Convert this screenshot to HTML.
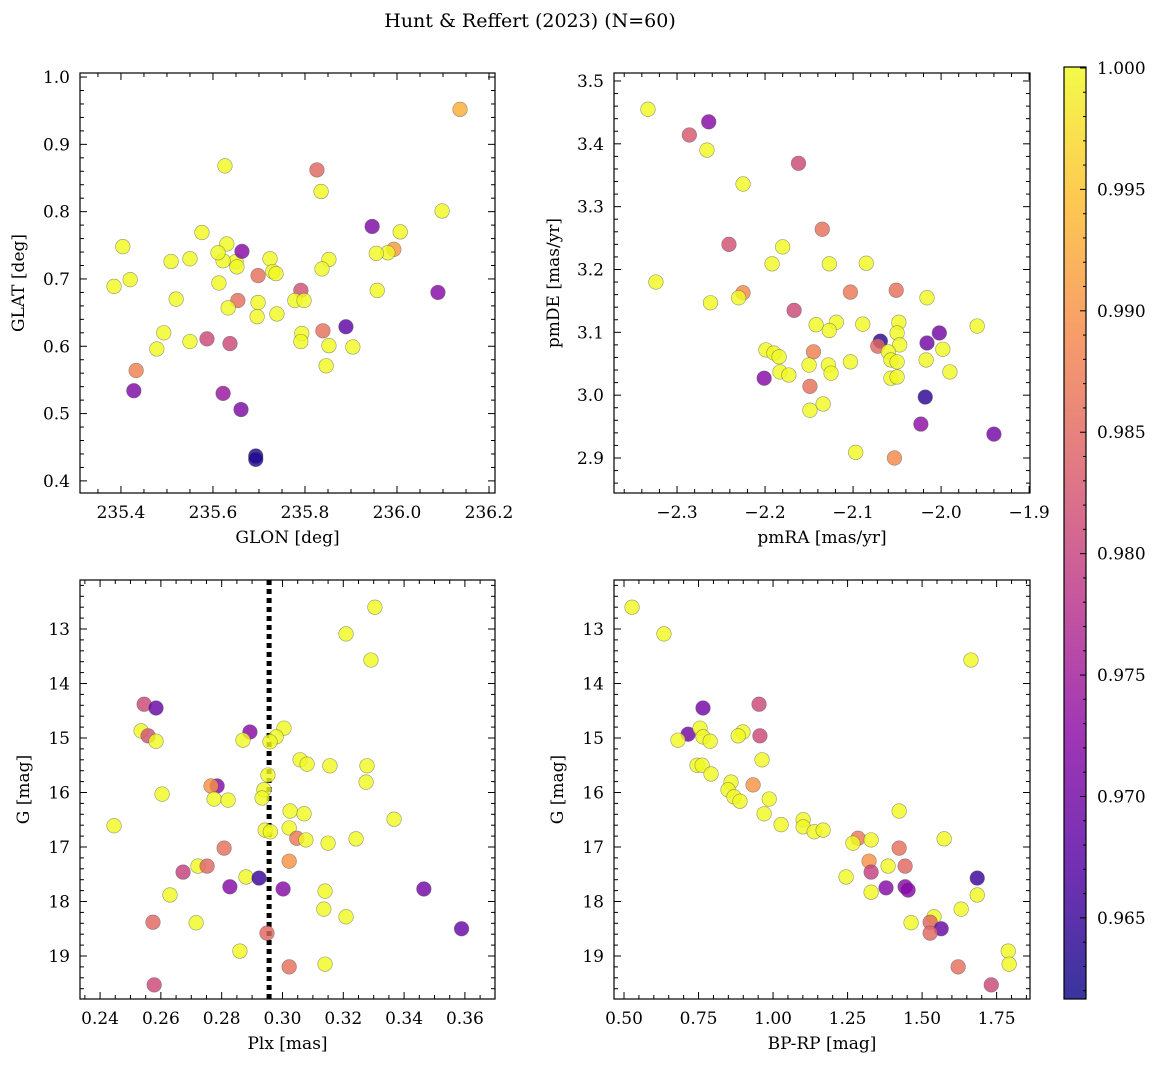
<!DOCTYPE html>
<html><head><meta charset="utf-8">
<style>
html,body{margin:0;padding:0;background:#fff;}
svg{display:block;font-family:"DejaVu Serif","Liberation Serif",serif;}
</style></head>
<body>
<svg id="fig" width="1161" height="1067" viewBox="0 0 1161 1067" xmlns="http://www.w3.org/2000/svg">
<text x="530" y="27" text-anchor="middle" font-size="19">Hunt &amp; Reffert (2023) (N=60)</text>
</svg>
<script>
// ---- data ----
const p1_glon=[236.137,236.098,235.626,235.826,235.835,235.946,236.007,235.576,235.404,235.630,235.993,235.980,235.955,235.724,235.550,235.852,235.650,235.509,235.622,235.611,235.420,235.385,235.663,235.652,235.730,235.737,235.698,235.837,235.613,235.957,236.089,235.791,235.654,235.698,235.520,235.778,235.798,235.633,235.739,235.696,235.889,235.839,235.493,235.793,235.791,235.550,235.587,235.904,235.852,235.637,235.478,235.846,235.433,235.428,235.622,235.661,235.693,235.693];
const p1_glat=[0.952,0.801,0.868,0.862,0.830,0.778,0.770,0.769,0.748,0.752,0.744,0.739,0.738,0.730,0.730,0.729,0.726,0.726,0.727,0.739,0.699,0.689,0.741,0.718,0.711,0.708,0.705,0.715,0.694,0.683,0.680,0.683,0.668,0.665,0.670,0.668,0.668,0.657,0.648,0.644,0.629,0.623,0.620,0.619,0.607,0.607,0.611,0.599,0.601,0.604,0.596,0.571,0.564,0.534,0.530,0.506,0.437,0.432];
const p1_prob=[0.993,1,1,0.985,1,0.971,1,1,1,1,0.991,1,1,1,1,1,1,1,1,1,1,1,0.972,1,1,1,0.986,1,1,1,0.972,0.982,0.986,1,1,1,1,1,1,1,0.968,0.986,1,1,1,1,0.981,1,1,0.981,1,1,0.988,0.971,0.974,0.971,0.963,0.963];

const p2_pmra=[-2.333,-2.264,-2.286,-2.266,-2.162,-2.225,-2.241,-2.180,-2.135,-2.324,-2.192,-2.127,-2.085,-2.225,-2.230,-2.262,-2.103,-2.051,-2.016,-2.167,-2.142,-2.119,-2.127,-2.089,-2.048,-1.959,-2.002,-2.050,-2.069,-2.072,-2.047,-2.016,-1.998,-2.199,-2.190,-2.184,-2.145,-2.060,-2.057,-2.050,-2.017,-2.103,-2.150,-2.128,-2.201,-2.183,-2.173,-2.125,-2.057,-2.050,-1.990,-2.149,-2.134,-2.149,-2.018,-2.023,-1.940,-2.097,-2.053];
const p2_pmde=[3.455,3.435,3.414,3.390,3.369,3.336,3.240,3.236,3.264,3.180,3.209,3.209,3.210,3.163,3.155,3.147,3.164,3.167,3.155,3.135,3.112,3.116,3.103,3.113,3.116,3.110,3.099,3.099,3.086,3.078,3.080,3.083,3.073,3.072,3.067,3.061,3.069,3.069,3.056,3.053,3.056,3.053,3.048,3.048,3.027,3.037,3.032,3.035,3.027,3.029,3.037,3.014,2.986,2.976,2.997,2.954,2.938,2.909,2.900];
const p2_prob=[1,0.972,0.983,1,0.981,1,0.982,1,0.986,1,1,1,1,0.989,1,1,0.987,0.986,1,0.981,1,1,1,1,1,1,0.970,1,0.964,0.985,1,0.970,1,1,1,1,0.988,1,1,1,1,1,1,1,0.972,1,1,1,1,1,1,0.986,1,1,0.964,0.973,0.970,1,0.989];

const p3_plx=[0.3304,0.3209,0.3291,0.2545,0.2584,0.2535,0.2558,0.2584,0.2893,0.2870,0.3005,0.2979,0.2959,0.3058,0.3081,0.3156,0.3278,0.2952,0.2785,0.2765,0.3275,0.2604,0.2939,0.2775,0.2821,0.2933,0.3025,0.3071,0.3367,0.2446,0.3022,0.2943,0.2960,0.3047,0.3077,0.3242,0.3150,0.2808,0.3022,0.2722,0.2752,0.2673,0.2880,0.2923,0.2827,0.3002,0.3140,0.3465,0.2630,0.3136,0.3209,0.2574,0.2716,0.3589,0.2949,0.2860,0.3022,0.3140,0.2578];
const p3_g=[12.60,13.09,13.57,14.38,14.45,14.87,14.96,15.06,14.89,15.04,14.82,14.98,15.07,15.40,15.48,15.51,15.51,15.68,15.88,15.88,15.81,16.03,15.95,16.12,16.14,16.10,16.34,16.39,16.49,16.61,16.65,16.69,16.72,16.84,16.87,16.85,16.93,17.02,17.26,17.35,17.35,17.46,17.55,17.57,17.73,17.77,17.81,17.77,17.88,18.14,18.28,18.38,18.39,18.50,18.58,18.91,19.20,19.15,19.53];
const p3_prob=[1,1,1,0.981,0.969,1,0.982,1,0.972,1,1,1,1,1,1,1,1,1,0.972,0.990,1,1,1,1,1,1,1,1,1,1,1,1,1,0.987,1,1,1,0.986,0.990,1,0.985,0.980,1,0.965,0.972,0.972,1,0.970,1,1,1,0.985,1,0.969,0.985,1,0.986,1,0.981];
const plxLine=0.2956;

const p4_bprp=[0.527,0.634,1.664,0.765,0.953,0.715,0.681,0.755,0.765,0.789,0.899,0.883,0.956,0.745,0.762,0.792,0.963,0.933,0.859,0.849,0.869,0.889,0.987,1.423,0.970,1.027,1.101,1.101,1.138,1.168,1.285,1.329,1.268,1.574,1.423,1.322,1.386,1.443,1.329,1.245,1.685,1.379,1.443,1.453,1.329,1.685,1.631,1.540,1.527,1.463,1.564,1.527,1.789,1.621,1.792,1.732];
const p4_g=[12.60,13.09,13.57,14.45,14.38,14.93,15.04,14.82,14.98,15.06,14.89,14.96,14.96,15.50,15.50,15.66,15.40,15.86,15.81,15.95,16.08,16.16,16.12,16.34,16.39,16.59,16.50,16.63,16.72,16.69,16.84,16.87,16.93,16.85,17.02,17.26,17.35,17.35,17.46,17.55,17.57,17.75,17.73,17.79,17.83,17.88,18.14,18.28,18.38,18.39,18.50,18.58,18.91,19.20,19.15,19.53];
const p4_prob=[1,1,1,0.970,0.981,0.970,1,1,1,1,1,1,0.981,1,1,1,1,0.990,1,1,1,1,1,1,1,1,1,1,1,1,0.987,1,1,1,0.986,0.990,1,0.985,0.980,1,0.965,0.972,0.972,0.972,1,1,1,1,0.985,1,0.969,0.985,1,0.986,1,0.981];

const cbTicks=[0.965,0.970,0.975,0.980,0.985,0.990,0.995,1.000];
const VMIN=0.96166,VMAX=1.00004;

// ---- helpers ----
const NS="http://www.w3.org/2000/svg";
const svg=document.getElementById('fig');
function mk(tag,attrs,parent){const e=document.createElementNS(NS,tag);for(const k in attrs)e.setAttribute(k,attrs[k]);(parent||svg).appendChild(e);return e;}
const plasma=[[13,8,135],[84,2,163],[139,10,165],[185,50,137],[219,92,104],[244,136,73],[254,188,43],[240,249,33]];
function cmap(v){let t=(v-VMIN)/(VMAX-VMIN);t=Math.max(0,Math.min(1,t))*(plasma.length-1);const i=Math.min(plasma.length-2,Math.floor(t)),f=t-i;const a=plasma[i],b=plasma[i+1];return `rgb(${Math.round(a[0]+(b[0]-a[0])*f)},${Math.round(a[1]+(b[1]-a[1])*f)},${Math.round(a[2]+(b[2]-a[2])*f)})`;}
function fmt(v,d){let s=v.toFixed(d);if(s.startsWith('-'))s='\u2212'+s.slice(1);return s;}

function panel(o){
  const g=mk('g',{});
  
  
  const {L,T,R,B}=o;
  const sx=v=>L+(v-o.x0)/(o.x1-o.x0)*(R-L);
  const sy=o.invert? (v=>T+(v-o.y0)/(o.y1-o.y0)*(B-T)) : (v=>B-(v-o.y0)/(o.y1-o.y0)*(B-T));
  const clipId=o.name+'-clip';
  const cp=mk('clipPath',{id:clipId},g);mk('rect',{x:L,y:T,width:R-L,height:B-T},cp);
  const pts=mk('g',{'clip-path':`url(#${clipId})`},g);
  if(o.vline!==undefined){
    const ln=mk('line',{x1:sx(o.vline),x2:sx(o.vline),y1:T,y2:B,stroke:'#000','stroke-width':5,'stroke-dasharray':'5,4'},pts);
    
    
  }
  o.xs.forEach((xv,i)=>{
    const c=mk('circle',{cx:sx(xv),cy:sy(o.ys[i]),r:7.3,fill:cmap(o.cs[i]),'fill-opacity':0.82,stroke:'#555','stroke-opacity':0.6,'stroke-width':0.6},pts);
    
    
  });
  mk('rect',{x:L,y:T,width:R-L,height:B-T,fill:'none',stroke:'#000','stroke-width':1.2},g);
  const eps=1e-9;
  // x ticks
  for(let v=Math.ceil(o.x0/o.xmin-eps)*o.xmin;v<=o.x1+eps;v+=o.xmin){
    const x=sx(v);const isMaj=Math.abs(v/o.xmaj-Math.round(v/o.xmaj))<1e-6;const len=isMaj?7:4;
    mk('line',{x1:x,x2:x,y1:B,y2:B-len,stroke:'#000','stroke-width':1},g);
    mk('line',{x1:x,x2:x,y1:T,y2:T+len,stroke:'#000','stroke-width':1},g);
    if(isMaj){const t=mk('text',{x:x,y:B+25,'text-anchor':'middle','font-size':17},g);t.textContent=fmt(v,o.xd);
      }
  }
  for(let v=Math.ceil(o.y0/o.ymin-eps)*o.ymin;v<=o.y1+eps;v+=o.ymin){
    const y=sy(v);const isMaj=Math.abs(v/o.ymaj-Math.round(v/o.ymaj))<1e-6;const len=isMaj?7:4;
    mk('line',{x1:L,x2:L+len,y1:y,y2:y,stroke:'#000','stroke-width':1},g);
    mk('line',{x1:R,x2:R-len,y1:y,y2:y,stroke:'#000','stroke-width':1},g);
    if(isMaj){const t=mk('text',{x:L-10,y:y+6,'text-anchor':'end','font-size':17},g);t.textContent=fmt(v,o.yd);
      }
  }
  const xt=mk('text',{x:(L+R)/2,y:B+50,'text-anchor':'middle','font-size':17},g);xt.textContent=o.xlabel;
  
  const yx=o.ylx, yy=(T+B)/2;
  const yt=mk('text',{x:yx,y:yy,'text-anchor':'middle','font-size':17,transform:`rotate(-90 ${yx} ${yy})`},g);yt.textContent=o.ylabel;
  
}

panel({name:'glon-glat-panel',L:80,T:73,R:495,B:493,x0:235.311,x1:236.213,y0:0.382,y1:1.006,xmaj:0.2,xmin:0.05,ymaj:0.1,ymin:0.02,xd:1,yd:1,
  xs:p1_glon,ys:p1_glat,cs:p1_prob,xlabel:'GLON [deg]',ylabel:'GLAT [deg]',ylx:24});
panel({name:'proper-motion-panel',L:614,T:73,R:1030,B:493,x0:-2.3716,x1:-1.899,y0:2.8443,y1:3.5127,xmaj:0.1,xmin:0.02,ymaj:0.1,ymin:0.02,xd:1,yd:1,
  xs:p2_pmra,ys:p2_pmde,cs:p2_prob,xlabel:'pmRA [mas/yr]',ylabel:'pmDE [mas/yr]',ylx:559});
panel({name:'plx-g-panel',L:80,T:580,R:495,B:999,x0:0.2334,x1:0.3699,y0:12.101,y1:19.789,invert:true,xmaj:0.02,xmin:0.005,ymaj:1,ymin:0.2,xd:2,yd:0,
  xs:p3_plx,ys:p3_g,cs:p3_prob,xlabel:'Plx [mas]',ylabel:'G [mag]',ylx:29,vline:plxLine});
panel({name:'cmd-panel',L:614,T:580,R:1030,B:999,x0:0.4664,x1:1.862,y0:12.101,y1:19.789,invert:true,xmaj:0.25,xmin:0.05,ymaj:1,ymin:0.2,xd:2,yd:0,
  xs:p4_bprp,ys:p4_g,cs:p4_prob,xlabel:'BP-RP [mag]',ylabel:'G [mag]',ylx:563});

// colorbar
(function(){
  const L=1064,R=1086,T=67,B=999;
  const g=mk('g',{});
  
  
  const defs=mk('defs',{},g);
  const lg=mk('linearGradient',{id:'cbgrad',x1:0,y1:1,x2:0,y2:0},defs);
  plasma.forEach((c,i)=>mk('stop',{offset:i/(plasma.length-1),'stop-color':`rgb(${c[0]},${c[1]},${c[2]})`},lg));
  mk('rect',{x:L,y:T,width:R-L,height:B-T,fill:'url(#cbgrad)','fill-opacity':0.82},g);
  mk('rect',{x:L,y:T,width:R-L,height:B-T,fill:'none',stroke:'#000','stroke-width':1.2},g);
  const sy=v=>B-(v-VMIN)/(VMAX-VMIN)*(B-T);
  for(let k=Math.ceil(VMIN*1000);k<=Math.floor(VMAX*1000);k++){
    const v=k/1000,y=sy(v);const maj=k%5===0;
    mk('line',{x1:R,x2:R-(maj?6:3),y1:y,y2:y,stroke:'#000','stroke-width':1},g);
  }
  cbTicks.forEach(v=>{const t=mk('text',{x:R+11,y:sy(v)+6,'font-size':17},g);t.textContent=v.toFixed(3);
    });
})();
</script>
</body></html>
